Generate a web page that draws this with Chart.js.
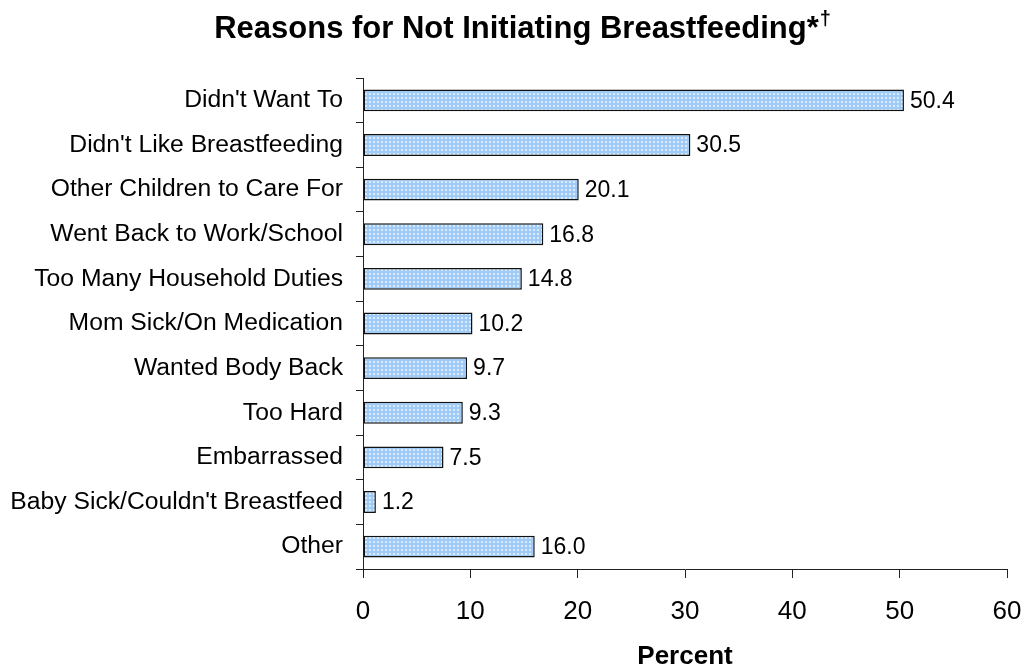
<!DOCTYPE html>
<html lang="en">
<head>
  <meta charset="UTF-8">
  <title>Reasons for Not Initiating Breastfeeding</title>
  <script src="https://cdn.jsdelivr.net/npm/chart.js"></script>
  <style>
    html, body { margin: 0; padding: 0; background: #fff; }
    #wrap { width: 1028px; height: 672px; position: relative; }
  </style>
</head>
<body>
  <div id="wrap">
    <canvas id="reasons-chart" width="1028" height="672"></canvas>
  </div>

  <script>
    // Data
    const reasons = [
      "Didn't Want To",
      "Didn't Like Breastfeeding",
      "Other Children to Care For",
      "Went Back to Work/School",
      "Too Many Household Duties",
      "Mom Sick/On Medication",
      "Wanted Body Back",
      "Too Hard",
      "Embarrassed",
      "Baby Sick/Couldn't Breastfeed",
      "Other"
    ];
    const percents = [50.4, 30.5, 20.1, 16.8, 14.8, 10.2, 9.7, 9.3, 7.5, 1.2, 16.0];
    const xTicks = [0, 10, 20, 30, 40, 50, 60];
    const titleText = 'Reasons for Not Initiating Breastfeeding*';
    const titleMark = '\u2020';

    const SANS = '"Liberation Sans", Arial, sans-serif';

    // dotted light blue fill like the original
    function makePattern() {
      const tile = document.createElement('canvas');
      tile.width = 4;
      tile.height = 4;
      const tctx = tile.getContext('2d');
      tctx.fillStyle = '#9fcbf6';
      tctx.fillRect(0, 0, 4, 4);
      tctx.fillStyle = '#d9ebfd';
      tctx.fillRect(1, 1, 2, 2);
      return document.getElementById('reasons-chart').getContext('2d').createPattern(tile, 'repeat');
    }

    // title with a raised dagger, drawn by hand since the title plugin can't do superscript
    const supTitle = {
      id: 'supTitle',
      afterDraw(chart) {
        const ctx = chart.ctx;
        ctx.save();
        ctx.fillStyle = '#000';
        ctx.textBaseline = 'alphabetic';
        ctx.font = 'bold 31px ' + SANS;
        const w1 = ctx.measureText(titleText).width;
        ctx.font = 'bold 20px ' + SANS;
        const w2 = ctx.measureText(titleMark).width;
        const x0 = 522 - (w1 + w2) / 2;
        ctx.font = 'bold 31px ' + SANS;
        ctx.fillText(titleText, x0, 38);
        ctx.font = 'bold 20px ' + SANS;
        ctx.fillText(titleMark, x0 + w1 + 1, 25);
        ctx.restore();
      }
    };

    // value labels at the end of each bar
    const valueLabels = {
      id: 'valueLabels',
      afterDatasetsDraw(chart) {
        const ctx = chart.ctx;
        const meta = chart.getDatasetMeta(0);
        ctx.save();
        ctx.font = '23px ' + SANS;
        ctx.fillStyle = '#000';
        ctx.textAlign = 'left';
        ctx.textBaseline = 'middle';
        meta.data.forEach((bar, i) => {
          ctx.fillText(percents[i].toFixed(1), bar.x + 6, bar.y + 1);
        });
        ctx.restore();
      }
    };

    const chartCtx = document.getElementById('reasons-chart').getContext('2d');
    const reasonsChart = new Chart(chartCtx, {
      type: 'bar',
      data: {
        labels: reasons,
        datasets: [{
          data: percents,
          backgroundColor: makePattern(),
          borderColor: '#111',
          borderWidth: 1.5,
          borderSkipped: false,
          barPercentage: 0.49,
          categoryPercentage: 1
        }]
      },
      options: {
        indexAxis: 'y',
        responsive: false,
        animation: false,
        layout: { padding: { top: 78, right: 21, left: 0, bottom: 0 } },
        plugins: {
          legend: { display: false },
          tooltip: { enabled: false },
          title: { display: false }
        },
        scales: {
          x: {
            min: 0,
            max: 60,
            afterBuildTicks(axis) {
              axis.ticks = xTicks.map(v => ({ value: v }));
            },
            afterFit(axis) {
              axis.height = 103;
              axis.paddingLeft = 0;
              axis.paddingRight = 0;
            },
            border: { display: true, color: '#222', width: 1 },
            grid: { drawOnChartArea: false, drawTicks: true, tickLength: 9, color: '#222' },
            ticks: {
              color: '#000',
              padding: 18,
              font: { family: SANS, size: 26 }
            },
            title: {
              display: true,
              text: 'Percent',
              color: '#000',
              font: { family: SANS, size: 26, weight: 'bold' },
              padding: { top: 0, bottom: 0 }
            }
          },
          y: {
            afterFit(axis) {
              axis.width = 363;
              axis.paddingTop = 0;
              axis.paddingBottom = 0;
            },
            border: { display: true, color: '#222', width: 1 },
            grid: { drawOnChartArea: false, drawTicks: true, tickLength: 7, color: '#222', offset: true },
            ticks: {
              color: '#000',
              padding: 13,
              autoSkip: false,
              font: { family: SANS, size: 24.7 }
            }
          }
        }
      },
      plugins: [valueLabels, supTitle]
    });
  </script>
</body>
</html>
